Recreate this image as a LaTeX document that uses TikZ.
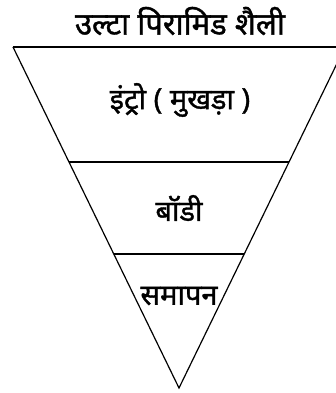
\documentclass[tikz,border=0pt]{standalone}
\usepackage{fontspec}
\newfontfamily\devfont[Script=Devanagari, FakeBold=1.2]{Noto Sans}
\newcommand\labelfont{\devfont\fontsize{29pt}{34pt}\selectfont}
\usepackage{tikz}
\usetikzlibrary{calc,positioning}

\begin{document}
\begin{tikzpicture}[x=1pt, y=-1pt]
        \tikzset{lbl/.style={font=\labelfont, inner sep=0pt},
                 head/.style={font=\devfont\fontsize{31pt}{36pt}\selectfont, inner sep=0pt}}
        \useasboundingbox (0,0) rectangle (335,393);
        % corners of the inverted pyramid
        \coordinate (tl) at (13,47);
        \coordinate (tr) at (345,47);
        \coordinate (apex) at (179,388);
        \draw[line width=2.4pt] (tl) -- (tr);
        \draw[line width=1.2pt] (tl) -- (apex) -- (tr);
        \draw[line width=1.6pt] ($(tl)!0.337!(apex)$) -- ($(tr)!0.337!(apex)$);
        \draw[line width=1.6pt] ($(tl)!0.607!(apex)$) -- ($(tr)!0.607!(apex)$);
        \node[head] (title) at (180,21) {उल्टा पिरामिड शैली};
        \node[lbl] (intro) at (180,100) {इंट्रो ( मुखड़ा )};
        \node[lbl] (body) at (179,208) {बॉडी};
        \node[lbl] (close) at (179,296) {समापन};
      \end{tikzpicture}
\end{document}
